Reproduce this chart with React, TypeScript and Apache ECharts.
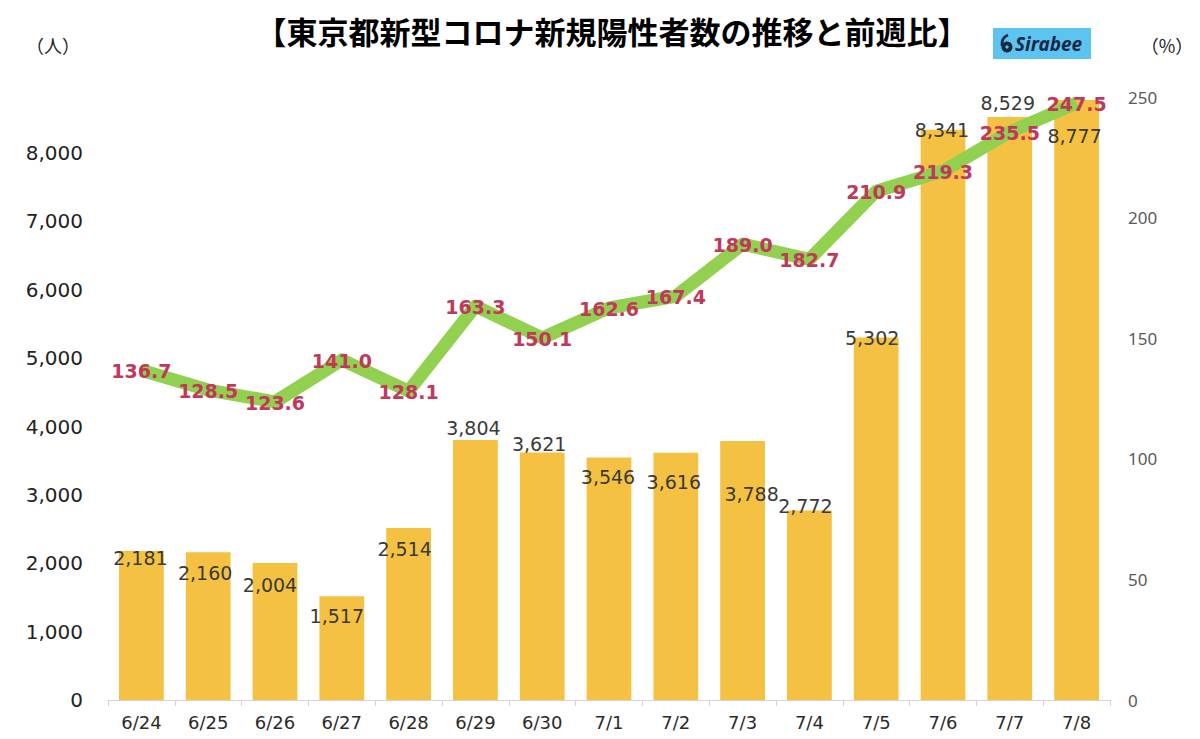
import React, { useEffect, useRef } from "react";
import * as echarts from "echarts";

const categories = ["6/24", "6/25", "6/26", "6/27", "6/28", "6/29", "6/30", "7/1", "7/2", "7/3", "7/4", "7/5", "7/6", "7/7", "7/8"];
const cases = [2181, 2160, 2004, 1517, 2514, 3804, 3621, 3546, 3616, 3788, 2772, 5302, 8341, 8529, 8777];
const weekRatio = [136.7, 128.5, 123.6, 141.0, 128.1, 163.3, 150.1, 162.6, 167.4, 189.0, 182.7, 210.9, 219.3, 235.5, 247.5];
const leftTicks = [0, 1000, 2000, 3000, 4000, 5000, 6000, 7000, 8000];
const rightTicks = [0, 50, 100, 150, 200, 250];

const title = "【東京都新型コロナ新規陽性者数の推移と前週比】";

// label placement tweaks (layout only)
const barLabelShift: [number, number][] = [
  [-1, 17], [-3, 30], [-5, 32], [-5, 29], [-4, 30], [-2, -2], [-3, 1], [-1, 29],
  [-2, 39], [9, 62], [-4, 5], [-4, 10], [-1, 10], [-2, -4], [-2, 46],
];

export default function App() {
  const ref = useRef<HTMLDivElement>(null);
  useEffect(() => {
    if (!ref.current) return;
    const chart = echarts.init(ref.current, undefined, { renderer: "svg" });
    const fmt = (v: number) => v.toLocaleString("en-US");
    chart.setOption({
      animation: false,
      backgroundColor: "#ffffff",
      textStyle: { fontFamily: "DejaVu Sans, Noto Sans CJK JP, sans-serif" },
      grid: { left: 108, right: 90, top: 97, bottom: 39 },
      xAxis: {
        type: "category",
        data: categories,
        boundaryGap: true,
        axisLine: { lineStyle: { color: "#d4d4d4", width: 1 } },
        axisTick: { show: true, length: 6, lineStyle: { color: "#d4d4d4" } },
        axisLabel: {
          interval: 0,
          margin: 13,
          formatter: (v: string) => "{d|" + v + "}",
          rich: {
            d: { fontSize: 18, color: "#2a2a2a", fontFamily: "DejaVu Sans, sans-serif" },
          },
        },
      },
      yAxis: [
        {
          type: "value",
          min: leftTicks[0],
          max: 8820,
          interval: leftTicks[1] - leftTicks[0],
          splitLine: { show: false },
          axisLine: { show: false },
          axisTick: { show: false },
          axisLabel: {
            color: "#222",
            fontSize: 20,
            margin: 25,
            fontFamily: "DejaVu Sans, sans-serif",
            showMaxLabel: false,
            formatter: (v: number) => (leftTicks.includes(v) ? fmt(v) : ""),
          },
        },
        {
          type: "value",
          min: rightTicks[0],
          max: rightTicks[rightTicks.length - 1],
          interval: rightTicks[1] - rightTicks[0],
          splitLine: { show: false },
          axisLine: { show: false },
          axisTick: { show: false },
          axisLabel: { color: "#595959", fontSize: 17, margin: 18, fontFamily: "Noto Sans, sans-serif" },
        },
      ],
      series: [
        {
          type: "bar",
          yAxisIndex: 0,
          barWidth: "67%",
          itemStyle: { color: "#F4C142" },
          z: 2,
          data: cases.map((v, i) => ({
            value: v,
            label: { offset: barLabelShift[i] },
          })),
          label: {
            show: true,
            position: "top",
            distance: 0,
            color: "#3a3a3a",
            fontSize: 19,
            fontFamily: "DejaVu Sans, sans-serif",
            formatter: (p: any) => fmt(p.value),
          },
        },
        {
          type: "line",
          yAxisIndex: 1,
          data: weekRatio,
          z: 5,
          symbol: "circle",
          symbolSize: 1,
          showSymbol: true,
          lineStyle: { color: "#92D050", width: 13, cap: "butt", join: "round" },
          itemStyle: { color: "#92D050" },
          label: {
            show: true,
            position: "inside",
            offset: [0, 1],
            color: "#C0395B",
            fontSize: 19,
            fontWeight: "bold",
            fontFamily: "DejaVu Sans, sans-serif",
            formatter: (p: any) => p.value.toFixed(1),
          },
        },
      ],
      graphic: [
        {
          type: "text",
          x: 612,
          y: 30,
          style: {
            text: title,
            fill: "#000",
            fontSize: 31,
            fontWeight: "bold",
            fontFamily: "Noto Sans CJK JP, sans-serif",
            textAlign: "center",
            textVerticalAlign: "middle",
          },
        },
        {
          type: "text",
          x: 53,
          y: 45,
          style: {
            text: "（人）",
            fill: "#222",
            fontSize: 18,
            fontFamily: "Noto Sans CJK JP, sans-serif",
            textAlign: "center",
            textVerticalAlign: "middle",
          },
        },
        {
          type: "text",
          x: 1167,
          y: 45,
          style: {
            text: "（%）",
            fill: "#222",
            fontSize: 18,
            fontFamily: "Noto Sans CJK JP, sans-serif",
            textAlign: "center",
            textVerticalAlign: "middle",
          },
        },
        {
          type: "group",
          children: [
            { type: "rect", shape: { x: 993, y: 28, width: 98, height: 31 }, style: { fill: "#5BC4F1" } },
            { type: "circle", shape: { cx: 1007, cy: 47, r: 5.5 }, style: { fill: "#1B2845" } },
            { type: "circle", shape: { cx: 1007, cy: 47, r: 1.6 }, style: { fill: "#5BC4F1" } },
            {
              type: "bezierCurve",
              shape: { x1: 1002, y1: 46, x2: 1008, y2: 35, cpx1: 1001, cpy1: 38 },
              style: { stroke: "#1B2845", lineWidth: 2.6, fill: "none" },
            },
            {
              type: "text",
              x: 1015,
              y: 44,
              style: {
                text: "Sirabee",
                fill: "#1B2845",
                fontSize: 19,
                fontStyle: "italic",
                fontWeight: "bold",
                fontFamily: "Noto Sans, sans-serif",
                textVerticalAlign: "middle",
              },
            },
          ],
        },
      ],
    });
    return () => chart.dispose();
  }, []);
  return (
    <div
      ref={ref}
      style={{ position: "fixed", left: 0, top: 0, width: 1200, height: 739, background: "#fff" }}
    />
  );
}
